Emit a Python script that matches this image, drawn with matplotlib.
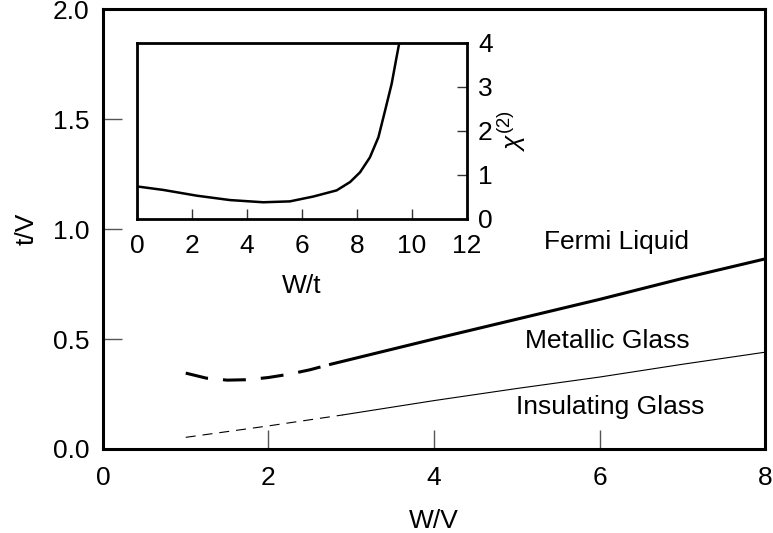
import numpy as np
import matplotlib
matplotlib.use("Agg")
import matplotlib.pyplot as plt

plt.rcParams['font.family'] = ['Liberation Sans', 'DejaVu Sans']
plt.rcParams['mathtext.fontset'] = 'custom'
plt.rcParams['mathtext.rm'] = 'Liberation Sans'
plt.rcParams['mathtext.it'] = 'Liberation Sans:italic'

# upper boundary (Fermi liquid / metallic glass)
upper_dash_x = [1.0, 1.25, 1.5, 1.75, 2.0, 2.25, 2.5, 2.75]
upper_dash_y = [0.345, 0.322, 0.313, 0.315, 0.325, 0.34, 0.36, 0.385]
upper_solid_x = [2.75, 3.0, 3.5, 4.0, 5.0, 6.0, 7.0, 8.0]
upper_solid_y = [0.385, 0.408, 0.454, 0.5, 0.59, 0.68, 0.775, 0.864]

# lower boundary (metallic / insulating glass)
lower_dash_x = [1.0, 2.0, 2.9]
lower_dash_y = [0.053, 0.105, 0.155]
lower_solid_x = [2.9, 4.0, 5.0, 6.0, 7.0, 8.0]
lower_solid_y = [0.155, 0.22, 0.275, 0.327, 0.385, 0.44]

# inset: chi^(2) vs W/t
inset_x = [0, 0.96, 2.17, 3.38, 4.59, 5.56, 6.41, 7.26, 7.75, 8.11, 8.47,
           8.78, 9.02, 9.26, 9.44, 9.54]
inset_y = [0.73, 0.65, 0.52, 0.42, 0.37, 0.39, 0.5, 0.64, 0.83, 1.05, 1.39,
           1.85, 2.45, 3.06, 3.67, 4.0]

region_labels = ["Fermi Liquid", "Metallic Glass", "Insulating Glass"]
region_x = [6.2, 6.1, 6.13]
region_y = [0.94, 0.49, 0.19]

fs = 19

fig = plt.figure(figsize=(7.73, 5.33), dpi=100)
ax = fig.add_axes([0.1332, 0.1576, 0.8565, 0.8255])

lw_thick = 2.2
lw_thin = 0.8
ax.plot(upper_dash_x, upper_dash_y, color='black', lw=lw_thick,
        linestyle=(0, (16.5 / lw_thick, 10.8 / lw_thick)))
ax.plot(upper_solid_x, upper_solid_y, color='black', lw=lw_thick)
ax.plot(lower_dash_x, lower_dash_y, color='black', lw=lw_thin,
        linestyle=(0, (7.2 / lw_thin, 5.0 / lw_thin)))
ax.plot(lower_solid_x, lower_solid_y, color='black', lw=lw_thin)

for lab, x, y in zip(region_labels, region_x, region_y):
    ax.text(x, y, lab, fontsize=fs, ha='center', va='center')

ax.set_xlim(0, 8)
ax.set_ylim(0, 2.0)
ax.set_xticks([0, 2, 4, 6, 8])
ax.set_yticks([0.0, 0.5, 1.0, 1.5, 2.0])
ax.set_yticklabels(["0.0", "0.5", "1.0", "1.5", "2.0"])
ax.tick_params(direction='in', length=14, width=1, color='#555555',
               labelsize=fs)
ax.tick_params(axis='x', pad=12)
ax.tick_params(axis='y', pad=10)
ax.set_xlabel("W/V", fontsize=fs, labelpad=14)
ax.set_ylabel("t/V", fontsize=fs, labelpad=10)
for s in ax.spines.values():
    s.set_linewidth(2.2)

# inset
ins = fig.add_axes([0.1772, 0.590, 0.4269, 0.330])
ins.plot(inset_x, inset_y, color='black', lw=1.8)
ins.set_xlim(0, 12)
ins.set_ylim(0, 4)
ins.set_xticks([0, 2, 4, 6, 8, 10, 12])
ins.set_yticks([0, 1, 2, 3, 4])
ins.yaxis.tick_right()
ins.yaxis.set_label_position('right')
ins.tick_params(direction='in', length=7, width=1, color='#333333',
                labelsize=fs)
ins.tick_params(axis='x', pad=11)
ins.tick_params(axis='y', pad=8)
ins.set_xlabel("W/t", fontsize=fs, labelpad=12)
ins.set_ylabel(r"$\chi^{(2)}$", fontsize=fs, labelpad=2)
for s in ins.spines.values():
    s.set_linewidth(2.0)

fig.savefig("out.png", dpi=100)
